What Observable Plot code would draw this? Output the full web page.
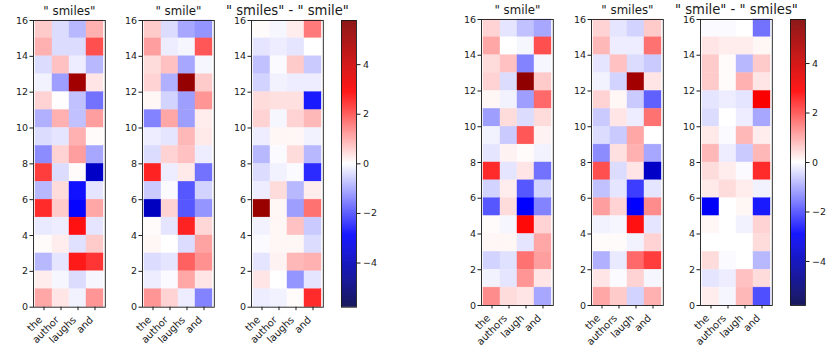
<!DOCTYPE html>
<html><head><meta charset="utf-8">
<script src="https://cdn.jsdelivr.net/npm/d3@7"></script>
<script src="https://cdn.jsdelivr.net/npm/@observablehq/plot@0.6"></script>
<style>
body{margin:0;background:#fff;}
#chart{position:relative;width:827px;height:351px;overflow:hidden;font-family:"DejaVu Sans",sans-serif;}
#chart svg{position:absolute;overflow:visible;}
</style></head><body><div id="chart"></div>
<script>
const wordsLeft = ["the","author","laughs","and"];
const wordsRight = ["the","authors","laugh","and"];
const titles = ['" smiles"','" smile"','" smiles" - " smile"','" smile"','" smiles"','" smile" - " smiles"'];
const titleSizes = [11.8, 11.8, 13.2, 11.8, 11.8, 13.2];
const rowTicks = [0,2,4,6,8,10,12,14,16];
const barTicks = [-4,-2,0,2,4];
const vmax = 5.78;

// rows listed from top (15-16) to bottom (0-1); columns follow the word lists
const smilesLeft = [
  [0.6,-0.4,-0.8,0.9],[0.9,-0.4,-0.4,2.0],[-0.4,0.7,-0.2,-0.8],[-0.15,-1.1,5.0,0.3],
  [0.5,0.02,-0.7,-1.6],[-0.9,0.9,-0.7,1.1],[-0.4,-0.3,0.9,0.05],[-1.3,0.5,1.1,-1.0],
  [2.2,-0.4,0.05,-3.8],[-0.8,0.4,-2.7,-0.3],[2.4,0.6,-2.85,1.0],[-0.25,-0.2,2.7,-0.3],
  [0.05,0.2,-0.35,0.6],[-0.8,-0.3,2.6,2.3],[0.2,-0.1,-0.4,-0.1],[1.0,0.3,-0.15,1.2]
];
const smileLeft = [
  [0.6,-0.4,-1.0,-1.2],[1.1,-0.2,-0.1,1.9],[0.4,0.7,-1.0,-0.1],[0.5,-0.9,5.3,0.6],
  [0.1,-0.5,-1.1,1.2],[-1.4,1.0,-1.1,0.2],[-0.2,-0.3,0.8,0.25],[-0.4,0.5,0.7,-0.2],
  [2.5,-0.2,0.25,-1.6],[-0.6,-0.05,-1.9,-0.5],[-3.9,0.5,-1.9,-1.2],[0.05,-0.3,2.5,0.45],
  [0.1,0.0,-0.4,1.05],[-0.4,-0.3,1.8,1.25],[-0.2,-0.05,1.0,0.3],[1.2,0.5,-0.2,-1.4]
];
const diffLeft = [
  [0.05,-0.1,0.2,1.5],[-0.3,-0.2,-0.3,0.0],[-0.7,-0.05,0.6,-0.6],[-0.5,-0.15,-0.2,-0.2],
  [0.4,0.35,0.35,-2.6],[0.5,-0.1,0.5,0.8],[-0.2,0.1,0.1,-0.15],[-0.8,-0.05,0.4,-0.8],
  [-0.4,-0.15,-0.05,-2.4],[-0.2,0.4,-0.8,0.2],[5.2,0.1,-1.1,1.6],[-0.15,0.1,0.7,-0.6],
  [-0.05,0.1,0.1,-0.4],[-0.3,0.15,0.8,0.9],[0.3,0.0,-1.2,-0.3],[-0.2,-0.15,0.05,2.4]
];
const smileRight = [
  [0.5,-0.3,-0.7,-1.0],[1.0,0.0,-0.1,2.0],[0.4,0.7,-1.4,-0.1],[0.5,-0.4,5.4,0.6],
  [0.1,-0.15,-1.1,1.7],[-1.1,0.4,-0.4,0.4],[-0.15,-0.6,1.9,0.15],[-0.3,0.15,0.05,-0.15],
  [2.4,-0.3,0.3,-1.6],[-0.5,0.2,-1.9,-0.5],[-1.9,0.4,-2.9,-1.4],[0.05,-0.1,2.8,0.5],
  [0.1,0.1,-0.3,1.0],[-0.5,-0.35,1.6,1.1],[-0.15,-0.3,1.2,0.3],[1.3,0.4,0.3,-1.0]
];
const smilesRight = [
  [0.5,-0.3,-0.5,0.6],[0.8,-0.2,-0.2,1.6],[-0.3,0.7,-0.4,-0.6],[-0.15,-0.5,5.0,0.3],
  [0.5,0.1,-0.6,-1.8],[-0.6,0.3,-0.2,1.6],[-0.4,-0.6,1.0,0.0],[-1.3,0.35,0.9,-1.0],
  [2.0,-0.4,0.3,-3.8],[-0.7,-0.3,-2.2,-0.3],[1.1,0.5,-2.9,1.3],[-0.15,-0.1,2.7,-0.3],
  [0.05,0.05,-0.15,0.5],[-0.9,-0.25,1.7,2.2],[0.3,-0.05,0.5,-0.1],[1.0,0.6,-0.5,0.9]
];
const diffRight = [
  [-0.05,-0.05,0.0,-1.6],[0.3,0.2,0.2,0.1],[0.6,0.05,-0.8,0.6],[0.6,0.05,0.9,0.3],
  [-0.3,-0.2,-0.3,3.0],[-0.4,0.0,-0.2,-1.0],[0.25,-0.05,0.8,0.2],[0.8,-0.2,-0.6,0.8],
  [0.4,0.2,-0.05,2.4],[0.25,0.4,0.2,-0.15],[-3.0,0.0,0.1,-2.6],[0.1,0.0,-0.15,0.5],
  [0.0,0.0,0.0,0.4],[0.4,-0.05,0.0,-0.8],[-0.3,-0.2,0.7,0.4],[0.2,-0.1,0.8,-2.0]
];

const colorScale = {
  type: "linear",
  domain: [-vmax, -vmax/2, 0, vmax/2, vmax],
  range: ["#00004c", "#0000ff", "#ffffff", "#ff0000", "#800000"],
  clamp: true
};
const ink = "#1a1a1a";
const font = "DejaVu Sans";
const root = document.getElementById("chart");

function place(svg, left, top) {
  svg.style.left = left + "px";
  svg.style.top = top + "px";
  root.appendChild(svg);
}

function heat(values, words, title, titleSize, frameLeft, frameTop, frameH) {
  const data = [];
  values.forEach((row, r) => row.forEach((v, c) => data.push({word: words[c], y1: 15 - r, y2: 16 - r, v})));
  const mL = 34, mR = 6, mT = 24, mB = 46, fw = 71.8;
  const svg = Plot.plot({
    width: mL + fw + mR, height: mT + frameH + mB,
    marginLeft: mL, marginRight: mR, marginTop: mT, marginBottom: mB,
    style: {fontFamily: font, fontSize: "9.5px", color: ink, background: "transparent", overflow: "visible"},
    x: {domain: words, padding: 0, axis: null},
    y: {domain: [0, 16], axis: null},
    color: colorScale,
    marks: [
      Plot.barY(data, {x: "word", y1: "y1", y2: "y2", fill: "v", stroke: "v", strokeWidth: 0.4}),
      Plot.frame({stroke: ink, strokeWidth: 0.9}),
      Plot.axisY({ticks: rowTicks, tickSize: 3.5, tickPadding: 2, label: null, fontSize: 9.5, stroke: ink}),
      Plot.axisX({tickSize: 3.5, tickFormat: () => "", label: null, stroke: ink}),
      Plot.axisX({tickSize: 0, tickPadding: 5.5, tickRotate: -45, textAnchor: "end", dx: -3.5, dy: 5.5, label: null, fontSize: 10}),
      Plot.text([title], {frameAnchor: "top", dy: -5.5, lineAnchor: "bottom", fontSize: titleSize, fill: ink})
    ]
  });
  place(svg, frameLeft - mL, frameTop - mT);
}

function colorbar(frameLeft, frameTop, frameH) {
  const step = 0.02;
  const slices = d3.range(-vmax, vmax, step);
  const mL = 2, mR = 30, mT = 4, mB = 4, fw = 15;
  const svg = Plot.plot({
    width: mL + fw + mR, height: mT + frameH + mB,
    marginLeft: mL, marginRight: mR, marginTop: mT, marginBottom: mB,
    style: {fontFamily: font, fontSize: "9.5px", color: ink, background: "transparent", overflow: "visible"},
    y: {domain: [-vmax, vmax], axis: null},
    color: colorScale,
    marks: [
      Plot.barY(slices, {y1: d => d, y2: d => Math.min(d + step * 1.5, vmax), fill: d => d + step / 2}),
      Plot.frame({stroke: ink, strokeWidth: 0.9}),
      Plot.axisY({anchor: "right", ticks: barTicks, tickSize: 3.5, tickPadding: 3, label: null, fontSize: 9.5, stroke: ink})
    ]
  });
  place(svg, frameLeft - mL, frameTop - mT);
}

const hL = 286.7, hR = 286;
heat(smilesLeft, wordsLeft, titles[0], titleSizes[0], 32.5, 20, hL);
heat(smileLeft, wordsLeft, titles[1], titleSizes[1], 141.8, 20, hL);
heat(diffLeft, wordsLeft, titles[2], titleSizes[2], 251.0, 20, hL);
colorbar(341.3, 20, hL);
heat(smileRight, wordsRight, titles[3], titleSizes[3], 481, 19, hR);
heat(smilesRight, wordsRight, titles[4], titleSizes[4], 590.6, 19, hR);
heat(diffRight, wordsRight, titles[5], titleSizes[5], 700, 19, hR);
colorbar(790.2, 19, hR);
</script></body></html>
